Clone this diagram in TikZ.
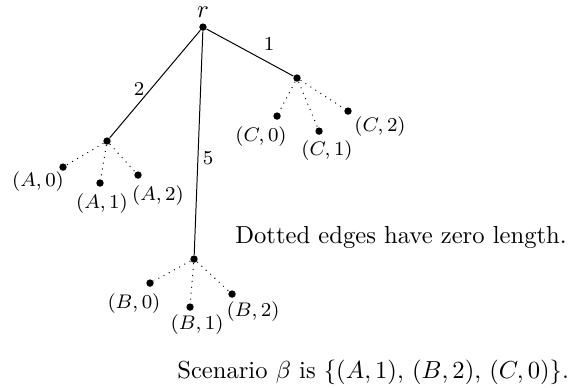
\documentclass[tikz,border=0pt]{standalone}
\usepackage{amsmath}
\usepackage{tikz}
\tikzset{
  treedot/.style={circle,fill=black,inner sep=0pt,minimum size=3pt},
  rootlabel/.style={inner sep=1pt},
  leaflabel/.style={font=\footnotesize,inner sep=1pt},
  weightlabel/.style={font=\footnotesize,inner sep=1pt},
  treeedge/.style={draw=black},
  zeroedge/.style={draw=black,dotted},
  notetext/.style={inner sep=1pt}
}

\begin{document}
\begin{tikzpicture}
  \useasboundingbox (0,0) rectangle (8.30,5.53);
  \node[treedot] (r) at (2.900,5.143) {};
  \node[treedot] (a) at (1.529,3.515) {};
  \node[treedot] (b) at (2.772,1.829) {};
  \node[treedot] (c) at (4.243,4.415) {};
  \node[treedot] (a0) at (0.900,3.143) {};
  \node[treedot] (a1) at (1.429,2.915) {};
  \node[treedot] (a2) at (1.972,3.029) {};
  \node[treedot] (b0) at (2.143,1.486) {};
  \node[treedot] (b1) at (2.715,1.143) {};
  \node[treedot] (b2) at (3.315,1.329) {};
  \node[treedot] (c0) at (3.958,3.872) {};
  \node[treedot] (c1) at (4.558,3.657) {};
  \node[treedot] (c2) at (4.972,3.943) {};
  \node[rootlabel] (rlab) at (2.900,5.358) {$r$};
  \node[leaflabel] (a0lab) at (0.543,2.929) {$(A,0)$};
  \node[leaflabel] (a1lab) at (1.457,2.615) {$(A,1)$};
  \node[leaflabel] (a2lab) at (2.257,2.743) {$(A,2)$};
  \node[leaflabel] (b0lab) at (1.914,1.200) {$(B,0)$};
  \node[leaflabel] (b1lab) at (2.815,0.900) {$(B,1)$};
  \node[leaflabel] (b2lab) at (3.615,1.072) {$(B,2)$};
  \node[leaflabel] (c0lab) at (3.729,3.586) {$(C,0)$};
  \node[leaflabel] (c1lab) at (4.672,3.372) {$(C,1)$};
  \node[leaflabel] (c2lab) at (5.429,3.715) {$(C,2)$};
  \draw[treeedge] (r) -- (a);
  \draw[treeedge] (r) -- (b);
  \draw[treeedge] (r) -- (c);
  \node[weightlabel] (wa) at (1.986,4.258) {$2$};
  \node[weightlabel] (wb) at (2.972,3.272) {$5$};
  \node[weightlabel] (wc) at (3.843,4.900) {$1$};
  \draw[zeroedge] (a) -- (a0);
  \draw[zeroedge] (a) -- (a1);
  \draw[zeroedge] (a) -- (a2);
  \draw[zeroedge] (b) -- (b0);
  \draw[zeroedge] (b) -- (b1);
  \draw[zeroedge] (b) -- (b2);
  \draw[zeroedge] (c) -- (c0);
  \draw[zeroedge] (c) -- (c1);
  \draw[zeroedge] (c) -- (c2);
  \node[notetext] (note) at (5.729,2.143) {Dotted edges have zero length.};
  \node[notetext] (scen) at (5.33,0.214)
    {Scenario $\beta$ is $\{(A,1)$, $(B,2)$, $(C,0)\}$.};
\end{tikzpicture}
\end{document}
